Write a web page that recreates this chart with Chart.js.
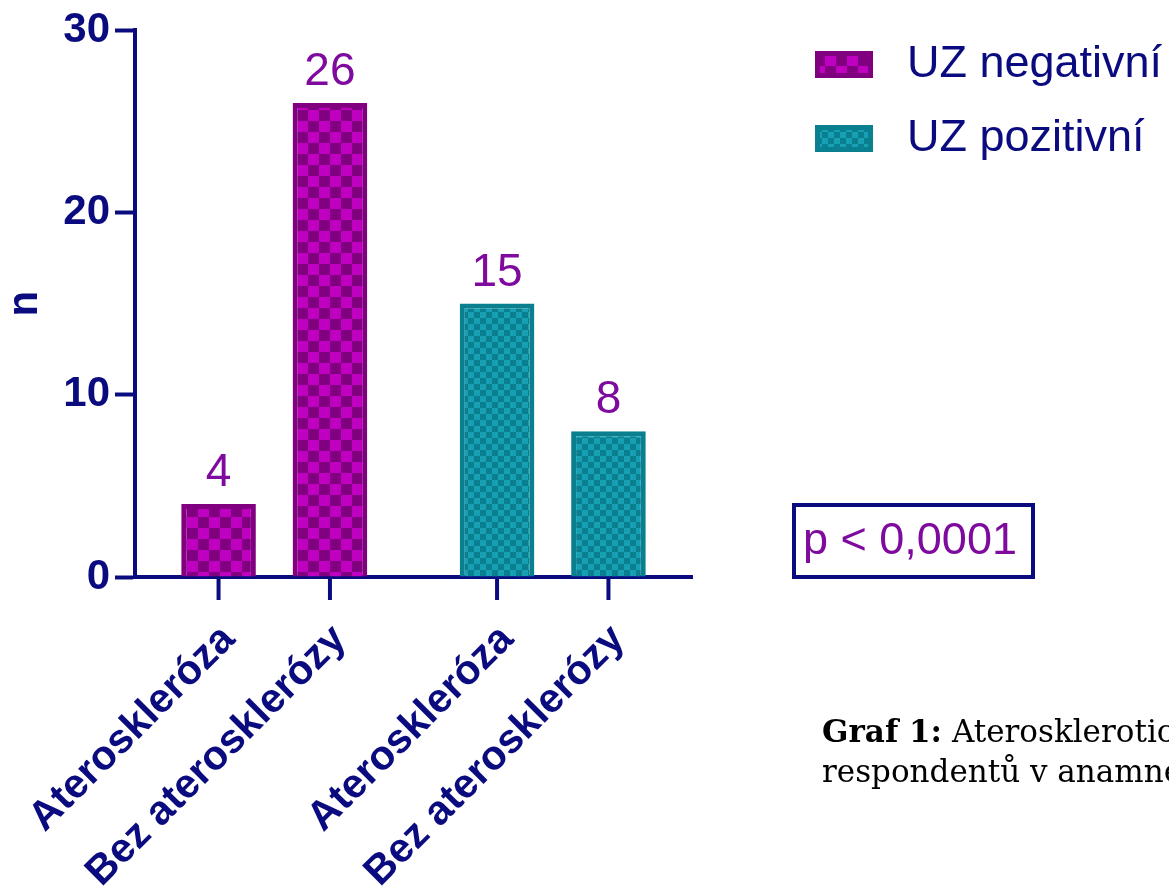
<!DOCTYPE html>
<html>
<head>
<meta charset="utf-8">
<script src="https://cdn.jsdelivr.net/npm/chart.js@4"></script>
<style>
  html, body { margin: 0; padding: 0; background: #fff; overflow: hidden; }
  #wrap { width: 1169px; height: 888px; position: relative; }
</style>
</head>
<body>
<div id="wrap"><canvas id="graf" width="1169" height="888"></canvas></div>
<script>
// data
const skupiny = ['UZ negativní', 'UZ pozitivní'];
const podskupiny = ['Ateroskleróza', 'Bez aterosklerózy'];
const ateroskleroza = [4, 15];
const bezAterosklerozy = [26, 8];
const yTicks = [0, 10, 20, 30];
const pText = 'p < 0,0001';
const popisekTucne = 'Graf 1:';
const popisek1 = ' Aterosklerotické změny u';
const popisek2 = 'respondentů v anamnéze';

// barvy
const navy = '#0b0b80';
const fialova = '#800080';
const fialovaSvetla = '#c000c0';
const tyrkys = '#0a7f8f';
const tyrkysSvetla = '#17a0b4';
const popiskyBarva = '#7e0a9e';

const sachovnice = (tmava, svetla, bunka) => {
    const c = document.createElement('canvas');
    c.width = bunka * 2;
    c.height = bunka * 2;
    const x = c.getContext('2d');
    x.fillStyle = tmava;
    x.fillRect(0, 0, c.width, c.height);
    x.fillStyle = svetla;
    x.fillRect(0, 0, bunka, bunka);
    x.fillRect(bunka, bunka, bunka, bunka);
    return x.createPattern(c, 'repeat');
};

const vzorFialovy = sachovnice(fialova, fialovaSvetla, 11);
const vzorTyrkys = sachovnice(tyrkys, tyrkysSvetla, 6);
const vzory = [vzorFialovy, vzorTyrkys];
const okraje = [fialova, tyrkys];

// popisky osy x, hodnoty, legenda, p box, popisek grafu
const kresleni = {
    id: 'kresleni',
    afterDraw(chart) {
        const ctx = chart.ctx;
        const bottom = chart.chartArea.bottom;
        ctx.save();
        chart.data.datasets.forEach((ds, di) => {
            const meta = chart.getDatasetMeta(di);
            meta.data.forEach((el, i) => {
                // hodnota nad sloupcem
                ctx.fillStyle = popiskyBarva;
                ctx.font = '46px "Liberation Sans", Arial, sans-serif';
                ctx.textAlign = 'center';
                ctx.textBaseline = 'alphabetic';
                ctx.fillText(String(ds.data[i]), el.x, el.y - 18);
                // carka osy
                ctx.strokeStyle = navy;
                ctx.lineWidth = 4;
                ctx.beginPath();
                ctx.moveTo(el.x, bottom);
                ctx.lineTo(el.x, bottom + 23);
                ctx.stroke();
                // popisek
                ctx.save();
                ctx.translate(el.x + 10, bottom + 56);
                ctx.rotate(-Math.PI / 4);
                ctx.fillStyle = navy;
                ctx.font = 'bold 41px "Liberation Sans", Arial, sans-serif';
                ctx.textAlign = 'right';
                ctx.textBaseline = 'middle';
                ctx.fillText(ds.label, 0, 0);
                ctx.restore();
            });
        });

        // legenda
        skupiny.forEach((s, i) => {
            const y = 51 + i * 74;
            ctx.fillStyle = vzory[i];
            ctx.fillRect(815, y, 58, 27);
            ctx.strokeStyle = okraje[i];
            ctx.lineWidth = 5;
            ctx.strokeRect(817.5, y + 2.5, 53, 22);
            ctx.fillStyle = navy;
            ctx.font = '45px "Liberation Sans", Arial, sans-serif';
            ctx.textAlign = 'left';
            ctx.textBaseline = 'middle';
            ctx.fillText(s, 907, y + 14);
        });

        // p hodnota
        ctx.strokeStyle = navy;
        ctx.lineWidth = 4;
        ctx.strokeRect(794, 505, 239, 72);
        ctx.fillStyle = popiskyBarva;
        ctx.font = '45px "Liberation Sans", Arial, sans-serif';
        ctx.textAlign = 'left';
        ctx.textBaseline = 'middle';
        ctx.fillText(pText, 803, 542);

        // popisek grafu
        ctx.fillStyle = '#000';
        ctx.textBaseline = 'alphabetic';
        ctx.font = 'bold 31px "DejaVu Serif", serif';
        ctx.fillText(popisekTucne, 822, 742);
        const w = ctx.measureText(popisekTucne).width;
        ctx.font = '31px "DejaVu Serif", serif';
        ctx.fillText(popisek1, 822 + w, 742);
        ctx.fillText(popisek2, 822, 782);
        ctx.restore();
    }
};

const graph = document.getElementById('graf');

new Chart(graph, {
    type: 'bar',
    data: {
        labels: skupiny,
        datasets: [
            {
                label: podskupiny[0],
                data: ateroskleroza,
                backgroundColor: vzory,
                borderColor: okraje,
                borderWidth: 5
            },
            {
                label: podskupiny[1],
                data: bezAterosklerozy,
                backgroundColor: vzory,
                borderColor: okraje,
                borderWidth: 5
            }
        ]
    },
    options: {
        responsive: false,
        animation: false,
        devicePixelRatio: 1,
        categoryPercentage: 0.8,
        barPercentage: 0.67,
        layout: {
            padding: { left: 0, top: 28, right: 477, bottom: 311 }
        },
        plugins: {
            legend: { display: false },
            tooltip: { enabled: false }
        },
        scales: {
            x: {
                ticks: { display: false },
                grid: { display: false },
                border: { display: true, color: navy, width: 4 },
                afterFit: (s) => { s.height = 0; }
            },
            y: {
                min: 0,
                max: 30,
                afterBuildTicks: (s) => { s.ticks = yTicks.map(v => ({ value: v })); },
                ticks: {
                    color: navy,
                    padding: 5,
                    font: { family: '"Liberation Sans", Arial, sans-serif', size: 42, weight: 'bold' }
                },
                grid: {
                    drawOnChartArea: false,
                    drawTicks: true,
                    tickLength: 20,
                    tickWidth: 4,
                    tickColor: navy
                },
                border: { display: true, color: navy, width: 4 },
                title: {
                    display: true,
                    text: 'n',
                    color: navy,
                    padding: 0,
                    font: { family: '"Liberation Sans", Arial, sans-serif', size: 42, weight: 'bold' }
                },
                afterFit: (s) => { s.width = 135; }
            }
        }
    },
    plugins: [kresleni]
});
</script>
</body>
</html>
